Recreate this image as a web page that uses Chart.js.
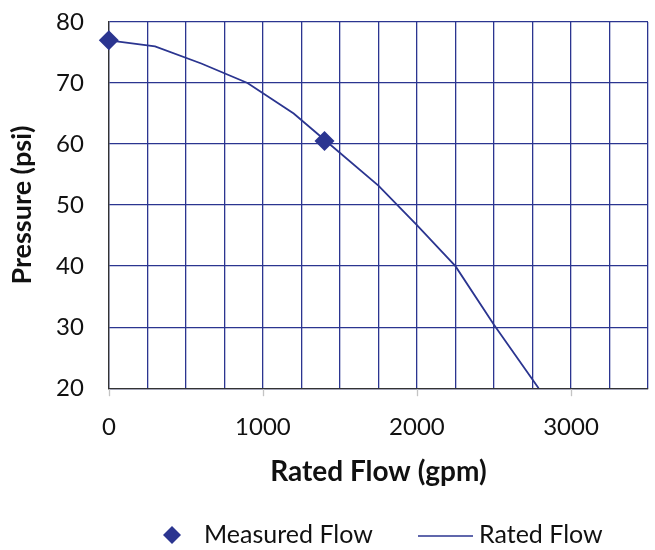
<!DOCTYPE html>
<html>
<head>
<meta charset="utf-8">
<script src="https://cdn.jsdelivr.net/npm/chart.js@4.4.0/dist/chart.umd.min.js"></script>
<style>
html,body{margin:0;padding:0;background:#fff;}
#wrap{width:655px;height:550px;}
</style>
</head>
<body>
<div id="wrap"><canvas id="c" width="655" height="550"></canvas></div>
<script>
const measuredFlow = [0, 1400];
const measuredPressure = [77, 60.5];
const ratedFlow = [0, 300, 600, 900, 1200, 1400, 1750, 2000, 2250, 2500, 2790];
const ratedPressure = [77, 76, 73.2, 70, 65, 60.7, 53.2, 46.7, 40, 30.4, 20];
const xTicks = [0, 1000, 2000, 3000];
const yTicks = [20, 30, 40, 50, 60, 70, 80];

const NAVY = '#2b3590';
const FONT = 'Lato';

const extrasPlugin = {
  id: 'extras',
  afterDraw(ch) {
    const ctx = ch.ctx;
    const xs = ch.scales.x;
    const bottom = ch.chartArea.bottom;
    ctx.save();
    // short light tick marks under the labelled x values
    ctx.strokeStyle = '#c4c4c4';
    ctx.lineWidth = 1.3;
    xTicks.forEach(v => {
      const px = Math.round(xs.getPixelForValue(v)) + 0.5;
      ctx.beginPath(); ctx.moveTo(px, bottom + 1); ctx.lineTo(px, bottom + 8); ctx.stroke();
    });
    // legend
    const y = 535;
    const ds = ch.data.datasets;
    ctx.font = '25px ' + FONT;
    ctx.textBaseline = 'middle';
    ctx.textAlign = 'left';
    ctx.fillStyle = NAVY;
    ctx.beginPath();
    ctx.moveTo(172, y - 9); ctx.lineTo(181, y); ctx.lineTo(172, y + 9); ctx.lineTo(163, y); ctx.closePath();
    ctx.fill();
    ctx.fillStyle = '#111';
    ctx.fillText(ds[0].label, 204, y);
    ctx.strokeStyle = NAVY;
    ctx.lineWidth = 1.6;
    ctx.beginPath(); ctx.moveTo(418, y + 1); ctx.lineTo(473, y + 1); ctx.stroke();
    ctx.fillText(ds[1].label, 479, y);
    ctx.restore();
  }
};

const chart = new Chart(document.getElementById('c'), {
  type: 'scatter',
  data: {
    datasets: [
      {
        label: 'Measured Flow',
        data: measuredFlow.map((x, i) => ({x, y: measuredPressure[i]})),
        showLine: false,
        pointStyle: 'rectRot',
        pointRadius: 10,
        backgroundColor: NAVY,
        borderColor: NAVY,
        borderWidth: 0,
        clip: false,
        order: 0
      },
      {
        label: 'Rated Flow',
        data: ratedFlow.map((x, i) => ({x, y: ratedPressure[i]})),
        showLine: true,
        pointRadius: 0,
        borderColor: NAVY,
        backgroundColor: NAVY,
        borderWidth: 1.8,
        tension: 0,
        order: 1
      }
    ]
  },
  options: {
    responsive: false,
    animation: false,
    layout: {autoPadding: false, padding: {top: 22, right: 7, left: 9, bottom: 64}},
    plugins: {
      tooltip: {enabled: false},
      legend: {display: false}
    },
    scales: {
      x: {
        type: 'linear',
        min: 0,
        max: 3500,
        ticks: {
          stepSize: 250,
          autoSkip: false,
          maxRotation: 0,
          padding: 0,
          color: '#111',
          font: {family: FONT, size: 24},
          callback: v => (xTicks.includes(v) ? String(v) : '')
        },
        grid: {
          color: NAVY,
          lineWidth: 1.3,
          drawTicks: true,
          tickLength: 25,
          tickColor: 'rgba(0,0,0,0)'
        },
        border: {display: true, color: '#333', width: 1.3},
        title: {
          display: true,
          text: 'Rated Flow (gpm)',
          color: '#111',
          font: {family: FONT, size: 28, weight: 'bold', lineHeight: 1.0},
          padding: {top: 16, bottom: 0}
        }
      },
      y: {
        min: 20,
        max: 80,
        ticks: {
          stepSize: 10,
          padding: 0,
          color: '#111',
          font: {family: FONT, size: 24},
          callback: v => (yTicks.includes(v) ? String(v) : '')
        },
        grid: {
          color: NAVY,
          lineWidth: 1.3,
          drawTicks: true,
          tickLength: 25,
          tickColor: 'rgba(0,0,0,0)'
        },
        border: {display: true, color: '#333', width: 1.3},
        title: {
          display: true,
          text: 'Pressure (psi)',
          color: '#111',
          font: {family: FONT, size: 27, weight: 'bold', lineHeight: 1.0},
          padding: {top: 0, bottom: 20}
        }
      }
    }
  },
  plugins: [extrasPlugin]
});
</script>
</body>
</html>
